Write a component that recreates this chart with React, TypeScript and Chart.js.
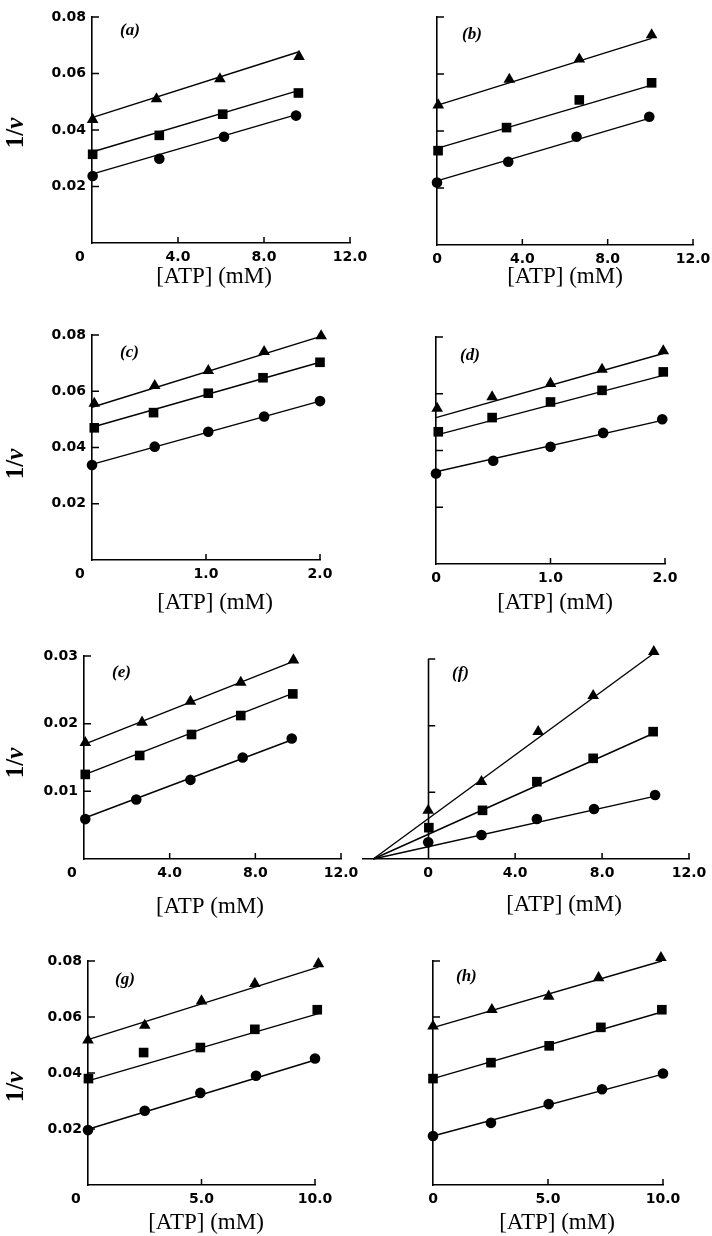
import React, { useEffect, useRef } from 'react';
import { Chart, registerables } from 'chart.js';

Chart.register(...registerables);

// ---------- Tick values and labels ----------
const xTicks12 = [0, 4, 8, 12];
const xLabels12 = ['0', '4.0', '8.0', '12.0'];
const xTicks2 = [0, 1, 2];
const xLabels2 = ['0', '1.0', '2.0'];
const xTicks10 = [0, 5, 10];
const xLabels10 = ['0', '5.0', '10.0'];
const yTicks08 = [0.02, 0.04, 0.06, 0.08];
const yLabels08 = ['0.02', '0.04', '0.06', '0.08'];
const yTicks03 = [0.01, 0.02, 0.03];
const yLabels03 = ['0.01', '0.02', '0.03'];
const yTicksH = [0.06, 0.08];
const noLabels = ['', '', '', ''];

// ---------- Panel (a) ----------
const aTriX = [0.03, 3.0, 5.95, 9.63];
const aTriY = [0.0437, 0.051, 0.0581, 0.066];
const aSqX = [0.03, 3.13, 6.08, 9.6];
const aSqY = [0.0314, 0.0381, 0.0456, 0.0531];
const aCirX = [0.03, 3.13, 6.14, 9.49];
const aCirY = [0.0237, 0.0298, 0.0376, 0.0451];
const aFitX = [0, 9.63];
const aFitTri = [0.0444, 0.0677];
const aFitSq = [0.0322, 0.054];
const aFitCir = [0.0244, 0.0457];

// ---------- Panel (b) ----------
const bTriX = [0.06, 3.39, 6.67, 10.06];
const bTriY = [0.0491, 0.0581, 0.0652, 0.0737];
const bSqX = [0.05, 3.26, 6.67, 10.06];
const bSqY = [0.0331, 0.0412, 0.0509, 0.0569];
const bCirX = [0.0, 3.34, 6.54, 9.95];
const bCirY = [0.0219, 0.0292, 0.038, 0.045];
const bFitX = [0, 10.06];
const bFitTri = [0.049, 0.0725];
const bFitSq = [0.0339, 0.0561];
const bFitCir = [0.0225, 0.0447];

// ---------- Panel (c) ----------
const cTriX = [0.02, 0.55, 1.02, 1.51, 2.01];
const cTriY = [0.0557, 0.062, 0.0673, 0.0741, 0.0797];
const cSqX = [0.02, 0.54, 1.02, 1.5, 2.0];
const cSqY = [0.047, 0.0524, 0.0593, 0.0648, 0.0703];
const cCirX = [0.0, 0.55, 1.02, 1.51, 2.0];
const cCirY = [0.0338, 0.0403, 0.0456, 0.051, 0.0565];
const cFitX = [0, 2.0];
const cFitTri = [0.0543, 0.0794];
const cFitSq = [0.0472, 0.0703];
const cFitCir = [0.034, 0.0565];

// ---------- Panel (d) ----------
const dTriX = [0.01, 0.49, 1.0, 1.45, 1.985];
const dTriY = [0.0548, 0.0589, 0.0636, 0.0686, 0.0751];
const dSqX = [0.02, 0.49, 1.0, 1.45, 1.985];
const dSqY = [0.0466, 0.0516, 0.0571, 0.0612, 0.0677];
const dCirX = [0.0, 0.5, 1.0, 1.46, 1.976];
const dCirY = [0.0319, 0.0364, 0.0413, 0.0462, 0.051];
const dFitX = [0, 1.985];
const dFitTri = [0.0516, 0.0742];
const dFitSq = [0.0454, 0.0665];
const dFitCir = [0.0325, 0.0507];

// ---------- Panel (e) ----------
const eTriX = [0.06, 2.71, 4.97, 7.32, 9.78];
const eTriY = [0.0172, 0.0202, 0.0233, 0.0261, 0.0294];
const eSqX = [0.06, 2.6, 5.02, 7.32, 9.75];
const eSqY = [0.0125, 0.0153, 0.0184, 0.0212, 0.0244];
const eCirX = [0.06, 2.44, 4.97, 7.41, 9.7];
const eCirY = [0.0059, 0.0088, 0.0117, 0.015, 0.0178];
const eFitX = [0.06, 9.78];
const eFitTri = [0.017, 0.0292];
const eFitSq = [0.0125, 0.0245];
const eFitCir = [0.0061, 0.0177];

// ---------- Panel (f) ----------
const fTriX = [0, 2.45, 5.06, 7.59, 10.38];
const fTriY = [0.0073, 0.0116, 0.0191, 0.0245, 0.0311];
const fSqX = [0.03, 2.5, 5.0, 7.59, 10.35];
const fSqY = [0.0047, 0.0073, 0.0116, 0.0151, 0.0191];
const fCirX = [0, 2.45, 5.0, 7.63, 10.44];
const fCirY = [0.0025, 0.0036, 0.006, 0.0075, 0.0096];
const fFitX = [-2.53, 10.4];
const fFitTri = [0, 0.0309];
const fFitSq = [0, 0.0189];
const fFitCir = [0, 0.0094];

// ---------- Panel (g) ----------
const gTriX = [0, 2.5, 5.0, 7.35, 10.15];
const gTriY = [0.0517, 0.057, 0.0657, 0.0719, 0.079];
const gSqX = [0.02, 2.45, 4.95, 7.35, 10.1];
const gSqY = [0.038, 0.0473, 0.0491, 0.0556, 0.0626];
const gCirX = [0, 2.5, 4.95, 7.4, 10.0];
const gCirY = [0.0196, 0.0265, 0.0329, 0.039, 0.0452];
const gFitX = [0, 10.15];
const gFitTri = [0.0519, 0.0778];
const gFitSq = [0.0372, 0.0612];
const gFitCir = [0.0199, 0.045];

// ---------- Panel (h) ----------
const hTriX = [0, 2.56, 5.03, 7.2, 9.91];
const hTriY = [0.0567, 0.0626, 0.0674, 0.074, 0.0812];
const hSqX = [0, 2.52, 5.05, 7.3, 9.95];
const hSqY = [0.038, 0.0437, 0.0497, 0.0563, 0.0626];
const hCirX = [0, 2.52, 5.03, 7.35, 10.0];
const hCirY = [0.0175, 0.0222, 0.0289, 0.0342, 0.0398];
const hFitX = [0, 9.95];
const hFitTri = [0.0562, 0.08];
const hFitSq = [0.038, 0.0618];
const hFitCir = [0.0175, 0.0395];

const ATP = '[ATP] (mM)';
const ATP_E = '[ATP (mM)';

// ---------- Layout (page pixels) ----------
const PAGE_W = 712;
const PAGE_H = 1236;
const YW = 60;
const XH = 30;

const panels = [
  { id: 'a', area: [92, 350, 17, 243], xr: [0, 12], yr: [0, 0.08], xt: xTicks12, xl: xLabels12, yt: yTicks08, yl: yLabels08,
    tri: [aTriX, aTriY], sq: [aSqX, aSqY], cir: [aCirX, aCirY], fitX: aFitX, fits: [aFitTri, aFitSq, aFitCir],
    label: [120, 31], xTitle: ATP, xTitlePos: [214, 277], yTitlePos: [17, 133], shiftZero: true },
  { id: 'b', area: [437, 693, 17, 245], xr: [0, 12], yr: [0, 0.08], xt: xTicks12, xl: xLabels12, yt: yTicks08, yl: noLabels,
    tri: [bTriX, bTriY], sq: [bSqX, bSqY], cir: [bCirX, bCirY], fitX: bFitX, fits: [bFitTri, bFitSq, bFitCir],
    label: [462, 35], xTitle: ATP, xTitlePos: [565, 277], yTitlePos: null, shiftZero: false },
  { id: 'c', area: [92, 320, 335, 560], xr: [0, 2], yr: [0, 0.08], xt: xTicks2, xl: xLabels2, yt: yTicks08, yl: yLabels08,
    tri: [cTriX, cTriY], sq: [cSqX, cSqY], cir: [cCirX, cCirY], fitX: cFitX, fits: [cFitTri, cFitSq, cFitCir],
    label: [120, 353], xTitle: ATP, xTitlePos: [215, 603], yTitlePos: [17, 464], shiftZero: true },
  { id: 'd', area: [436, 665, 337, 564], xr: [0, 2], yr: [0, 0.08], xt: xTicks2, xl: xLabels2, yt: yTicks08, yl: noLabels,
    tri: [dTriX, dTriY], sq: [dSqX, dSqY], cir: [dCirX, dCirY], fitX: dFitX, fits: [dFitTri, dFitSq, dFitCir],
    label: [460, 356], xTitle: ATP, xTitlePos: [555, 603], yTitlePos: null, shiftZero: false },
  { id: 'e', area: [84, 341, 656, 859], xr: [0, 12], yr: [0, 0.03], xt: xTicks12, xl: xLabels12, yt: yTicks03, yl: yLabels03,
    tri: [eTriX, eTriY], sq: [eSqX, eSqY], cir: [eCirX, eCirY], fitX: eFitX, fits: [eFitTri, eFitSq, eFitCir],
    label: [112, 673], xTitle: ATP_E, xTitlePos: [210, 907], yTitlePos: [17, 763], shiftZero: true },
  { id: 'f', area: [363, 689, 649, 859], xr: [-3, 12], yr: [0, 0.0315], xt: xTicks12, xl: xLabels12, yt: yTicks03, yl: noLabels,
    tri: [fTriX, fTriY], sq: [fSqX, fSqY], cir: [fCirX, fCirY], fitX: fFitX, fits: [fFitTri, fFitSq, fFitCir],
    label: [452, 674], xTitle: ATP, xTitlePos: [564, 905], yTitlePos: null, shiftZero: false, yFloat: true, yAxisTop: 0.03 },
  { id: 'g', area: [88, 315, 961, 1185], xr: [0, 10], yr: [0, 0.08], xt: xTicks10, xl: xLabels10, yt: yTicks08, yl: yLabels08,
    tri: [gTriX, gTriY], sq: [gSqX, gSqY], cir: [gCirX, gCirY], fitX: gFitX, fits: [gFitTri, gFitSq, gFitCir],
    label: [115, 980], xTitle: ATP, xTitlePos: [206, 1223], yTitlePos: [17, 1087], shiftZero: true },
  { id: 'h', area: [433, 663, 961, 1185], xr: [0, 10], yr: [0, 0.08], xt: xTicks10, xl: xLabels10, yt: yTicksH, yl: noLabels,
    tri: [hTriX, hTriY], sq: [hSqX, hSqY], cir: [hCirX, hCirY], fitX: hFitX, fits: [hFitTri, hFitSq, hFitCir],
    label: [456, 977], xTitle: ATP, xTitlePos: [557, 1223], yTitlePos: null, shiftZero: false },
];

const TICK_FONT = { family: 'DejaVu Sans', weight: 'bold' as const, size: 14 };
const SERIF = '"Liberation Serif", "DejaVu Serif", serif';

function pts(xs: number[], ys: number[]) {
  return xs.map((x, i) => ({ x, y: ys[i] }));
}

function Panel({ p }: { p: any }) {
  const ref = useRef<HTMLCanvasElement | null>(null);

  useEffect(() => {
    if (!ref.current) return;
    const [L, R, T, B] = p.area;

    const deco = {
      id: 'deco' + p.id,
      afterDraw(chart: any) {
        const ctx = chart.ctx;
        const xs = chart.scales.x;
        const ys = chart.scales.y;
        const ax = xs.getPixelForValue(0);
        const ay = ys.getPixelForValue(0);
        ctx.save();
        ctx.strokeStyle = '#000';
        ctx.lineCap = 'butt';
        if (p.yAxisTop !== undefined) {
          ctx.lineWidth = 1.6;
          ctx.beginPath();
          ctx.moveTo(Math.round(ax) + 0.5, ay);
          ctx.lineTo(Math.round(ax) + 0.5, ys.getPixelForValue(p.yAxisTop));
          ctx.stroke();
        }
        ctx.lineWidth = 1.5;
        ctx.beginPath();
        xs.ticks.forEach((t: any) => {
          if (t.value === 0) return;
          const px = xs.getPixelForValue(t.value);
          ctx.moveTo(px, ay);
          ctx.lineTo(px, ay - 6);
        });
        ys.ticks.forEach((t: any) => {
          const py = ys.getPixelForValue(t.value);
          ctx.moveTo(ax, py);
          ctx.lineTo(ax + 7, py);
        });
        ctx.stroke();

        ctx.fillStyle = '#000';
        // panel label
        ctx.font = 'bold italic 17px ' + SERIF;
        ctx.textAlign = 'left';
        ctx.textBaseline = 'middle';
        ctx.fillText('(' + p.id + ')', p.label[0], p.label[1]);

        // x title
        ctx.font = '23px ' + SERIF;
        ctx.textAlign = 'center';
        ctx.fillText(p.xTitle, p.xTitlePos[0], p.xTitlePos[1]);

        // y title: 1/v with italic v
        if (p.yTitlePos) {
          const f1 = 'bold 25px ' + SERIF;
          const f2 = 'bold italic 25px ' + SERIF;
          ctx.translate(p.yTitlePos[0], p.yTitlePos[1]);
          ctx.rotate(-Math.PI / 2);
          ctx.font = f1;
          const w1 = ctx.measureText('1/').width;
          ctx.font = f2;
          const w2 = ctx.measureText('v').width;
          ctx.textAlign = 'left';
          ctx.font = f1;
          ctx.fillText('1/', -(w1 + w2) / 2, 0);
          ctx.font = f2;
          ctx.fillText('v', -(w1 + w2) / 2 + w1, 0);
        }
        ctx.restore();
      },
    };

    const marker = (style: string, radius: number) => ({
      type: 'scatter' as const,
      showLine: false,
      pointStyle: style,
      pointRadius: radius,
      pointHoverRadius: radius,
      pointBackgroundColor: '#000',
      pointBorderColor: '#000',
      pointBorderWidth: 0,
      clip: false as any,
    });
    const fitLine = (ys: number[]) => ({
      type: 'scatter' as const,
      data: pts(p.fitX, ys),
      showLine: true,
      borderColor: '#000',
      borderWidth: 1.4,
      pointRadius: 0,
      pointHoverRadius: 0,
      clip: false as any,
    });

    const chart = new Chart(ref.current, {
      type: 'scatter',
      data: {
        datasets: [
          { ...marker('triangle', 6.7), data: pts(p.tri[0], p.tri[1]) },
          { ...marker('rect', 6.8), data: pts(p.sq[0], p.sq[1]) },
          { ...marker('circle', 5.3), data: pts(p.cir[0], p.cir[1]) },
          fitLine(p.fits[0]),
          fitLine(p.fits[1]),
          fitLine(p.fits[2]),
        ] as any,
      },
      options: {
        responsive: false,
        animation: false,
        devicePixelRatio: 1,
        events: [],
        layout: {
          padding: {
            left: p.yFloat ? L : L - YW,
            top: T,
            right: PAGE_W - R,
            bottom: PAGE_H - B - XH,
          },
        },
        plugins: {
          legend: { display: false },
          tooltip: { enabled: false },
          title: { display: false },
        },
        scales: {
          x: {
            type: 'linear',
            position: 'bottom',
            min: p.xr[0],
            max: p.xr[1],
            grid: { display: false, drawTicks: false },
            border: { display: true, color: '#000', width: 1.6 },
            ticks: {
              autoSkip: false,
              maxRotation: 0,
              minRotation: 0,
              padding: 6,
              color: '#000',
              font: TICK_FONT,
              callback: (_v: any, i: number) =>
                i === 0 && p.shiftZero ? p.xl[i] + '\u00A0\u00A0\u00A0\u00A0\u00A0' : p.xl[i],
            },
            afterBuildTicks: (s: any) => {
              s.ticks = p.xt.map((v: number) => ({ value: v }));
            },
            afterFit: (s: any) => {
              s.height = XH;
              s.paddingLeft = 0;
              s.paddingRight = 0;
            },
          },
          y: {
            type: 'linear',
            position: p.yFloat ? { x: 0 } : 'left',
            min: p.yr[0],
            max: p.yr[1],
            grid: { display: false, drawTicks: false },
            border: { display: p.yAxisTop === undefined, color: '#000', width: 1.6 },
            ticks: {
              autoSkip: false,
              padding: 6,
              color: '#000',
              font: TICK_FONT,
              callback: (_v: any, i: number) => p.yl[i] || '',
            },
            afterBuildTicks: (s: any) => {
              s.ticks = p.yt.map((v: number) => ({ value: v }));
            },
            afterFit: (s: any) => {
              if (!p.yFloat) s.width = YW;
              s.paddingTop = 0;
              s.paddingBottom = 0;
            },
          },
        } as any,
      },
      plugins: [deco],
    });
    return () => chart.destroy();
  }, []);

  return (
    <canvas
      ref={ref}
      width={PAGE_W}
      height={PAGE_H}
      style={{ position: 'absolute', left: 0, top: 0, width: PAGE_W, height: PAGE_H }}
    />
  );
}

export default function App() {
  return (
    <div
      style={{
        position: 'absolute',
        left: 0,
        top: 0,
        width: PAGE_W,
        height: PAGE_H,
        background: '#fff',
        overflow: 'hidden',
      }}
    >
      {panels.map((p) => (
        <Panel key={p.id} p={p} />
      ))}
    </div>
  );
}
